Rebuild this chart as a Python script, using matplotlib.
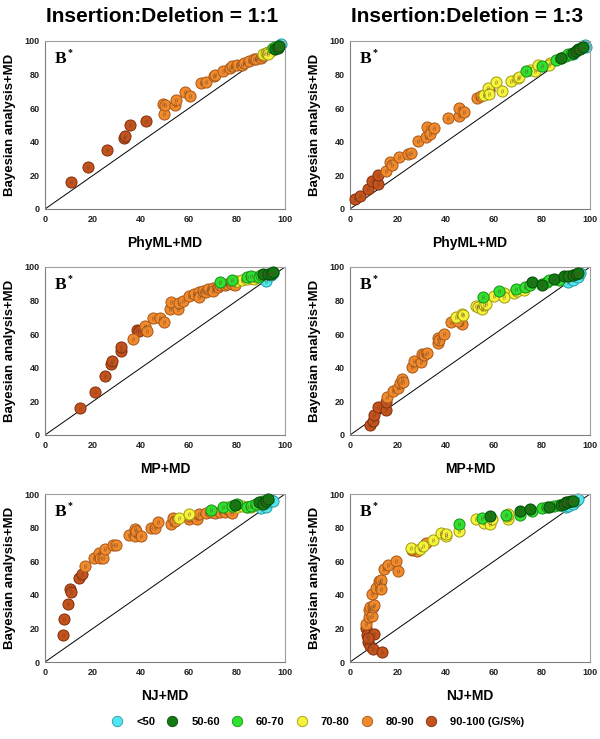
#!/usr/bin/env python3
# -*- coding: utf-8 -*-

"""
Bayesian+MD support vs PhyML/MP/NJ+MD, two indel ratios
"""
import matplotlib
matplotlib.use('Agg')
import matplotlib.pyplot as plt
from matplotlib.lines import Line2D
import numpy as np


CLASS_LABELS = ['<50', '50-60', '60-70', '70-80', '80-90', '90-100 (G/S%)']
CLASS_FACE = ['#4fe6f2', '#127a12', '#2fe02f', '#f6f43a', '#f08a2c', '#c4521c']
CLASS_EDGE = ['#2a98a2', '#0a4a0a', '#1a901a', '#a09a10', '#a8581a', '#7e300e']

COL_TITLES = ['Insertion:Deletion = 1:1', 'Insertion:Deletion = 1:3']
ROW_XLABELS = ['PhyML+MD', 'MP+MD', 'NJ+MD']
YLABEL = 'Bayesian analysis+MD'
TICKS = [0, 20, 40, 60, 80, 100]

# class codes: 0 <50, 1 50-60, 2 60-70, 3 70-80, 4 80-90, 5 90-100

# PhyML, 1:1
phyml11_x = [11, 18, 26, 33, 33.5, 35.5, 42,
             49, 49.5, 50, 54, 54.5, 58.5, 60.5, 65, 67, 70.5, 71, 74, 77, 78, 80, 82, 83, 85, 87, 88, 90, 91,
             91, 92, 93, 94, 95, 93,
             95, 96, 97,
             96, 97, 97.5,
             98, 98.5]
phyml11_y = [16, 25, 35, 42, 43.5, 50, 52.5,
             62.5, 56.5, 62, 62, 65, 69.5, 67.5, 75, 75.5, 79, 80, 82, 84, 85, 85.5, 86, 87, 88, 89, 89, 90, 91,
             92, 93, 93.5, 94, 95, 92,
             96, 96.5, 97,
             95, 96, 97,
             97.5, 98]
phyml11_c = [5]*7 + [4]*22 + [3]*6 + [2]*3 + [1]*3 + [0]*2

# PhyML, 1:3
phyml13_x = [2, 4, 7.5, 9, 11.5, 11.5, 58,
             15, 16.5, 17.5, 20.5, 24, 25.5, 28.5, 31.5, 32, 33.5, 35, 41, 45.5, 45.5, 47.5, 53, 54.5,
             56, 57.5, 58, 61, 63.5, 67, 70, 70.5, 75, 77, 78.5, 83.5, 83,
             73.5, 80, 86, 88, 90, 91, 92,
             88, 93, 94, 95, 96, 97,
             93, 97, 98, 98.5]
phyml13_y = [6, 8, 12, 16.5, 15, 20, 71,
             22.5, 28, 26, 31, 32.5, 33.5, 40.5, 43, 49, 44.5, 48, 54, 55.5, 60, 58, 66, 67,
             68, 72, 68.5, 75.5, 70.5, 76, 78, 78.5, 83, 82, 85.5, 87, 86,
             82, 85, 88.5, 90, 91, 92, 92.5,
             90, 93, 94, 95, 95.5, 96.5,
             92.5, 97, 97.5, 96.5]
phyml13_c = [5]*7 + [4]*17 + [3]*13 + [2]*7 + [1]*6 + [0]*4

# MP, 1:1
mp11_x = [14.5, 21, 25, 27.5, 28, 31.5, 31.5, 38.5, 39,
          36.5, 41.5, 42.5, 45, 48, 49.5, 52, 52.5, 55.5, 56, 57.5, 60, 62, 64, 64, 66, 67, 68, 70, 70,
          72, 73, 75, 76, 78, 79,
          80, 82, 84, 86, 87, 88,
          73, 78, 84, 86, 89, 90,
          91, 93, 94, 95,
          92, 94, 95]
mp11_y = [16, 25.5, 35, 42, 44, 50, 52.5, 62.5, 62,
          57, 65, 62, 69.5, 69.5, 67.5, 75, 79, 75, 78.5, 80, 83, 84, 85, 82, 86, 85, 87, 87.5, 86,
          88, 89, 89.5, 90, 90, 89,
          91.5, 92, 93, 93.5, 93, 94,
          91, 92, 94, 94.5, 94, 95,
          96, 96, 96, 97,
          91.5, 95, 96.5]
mp11_c = [5]*9 + [4]*26 + [3]*6 + [2]*6 + [1]*4 + [0]*3

# MP, 1:3
mp13_x = [8.5, 9.5, 10, 11.5, 15, 15,
          15.5, 18, 20, 21, 21.5, 22, 26, 26.5, 29.5, 30, 31, 32, 36.5, 36.5, 37, 39, 42, 46.5, 45,
          44, 46.5, 47, 52.5, 53.5, 55, 56, 56.5, 60, 64, 64, 68.5, 69.5, 72.5,
          55.5, 62, 69, 73, 75, 80, 82, 83, 87,
          76, 80, 85, 89, 91, 93, 94, 95,
          91, 93, 95, 96]
mp13_y = [6, 8.5, 12, 16.5, 15, 19.5,
          22.5, 26, 28, 31, 33.5, 31.5, 40.5, 44, 43.5, 48, 47.5, 49, 54.5, 57.5, 56.5, 60, 67.5, 66, 68,
          70, 72, 71.5, 77, 76, 75, 77.5, 78, 82.5, 84.5, 82, 84.5, 85.5, 86.5,
          82, 85.5, 87, 88, 89, 90, 91, 92, 92,
          91, 89.5, 93, 94.5, 94.5, 95, 96, 96.5,
          91, 92, 94, 96.5]
mp13_c = [5]*6 + [4]*19 + [3]*14 + [2]*9 + [1]*8 + [0]*4

# NJ, 1:1
nj11_x = [7.5, 8, 9.5, 10.5, 11, 14, 15.5,
          16.5, 20.5, 22.5, 23, 24, 25, 28.5, 29.5, 35, 37.5, 37.5, 38, 40, 44, 46, 47, 52.5, 53.5, 54,
          60, 60, 62.5, 63.5, 64, 67, 69, 71, 73, 75, 77, 78,
          56, 60, 76, 80, 82, 84, 86, 87, 89,
          69, 74, 78, 80, 84, 86, 88, 90, 91,
          79, 89, 91, 92, 93,
          90, 92, 93, 94, 95]
nj11_y = [16, 25.5, 34.5, 43.5, 41.5, 50, 52.5,
          57, 62, 65, 62, 62, 67.5, 69.5, 69.5, 75.5, 79, 75, 78, 75, 80, 79.5, 83.5, 82, 85.5, 84,
          85, 87, 86.5, 85, 88, 88.5, 89, 88.5, 89.5, 89, 90, 88.5,
          86, 88, 92, 92, 93, 92.5, 92, 93.5, 94,
          90.5, 92.5, 93, 94, 92, 93, 94, 95, 96,
          93.5, 95, 94, 96, 97,
          91.5, 92, 95, 96.5, 96]
nj11_c = [5]*7 + [4]*31 + [3]*9 + [2]*9 + [1]*5 + [0]*5

# NJ, 1:3
nj13_x = [6.5, 7, 7.5, 8.5, 9.5, 10, 13.5, 7.5,
          6.5, 8, 8, 8.5, 9, 9, 9.5, 10, 11, 12, 12.5, 13, 13, 14, 16, 19, 20, 26, 28, 31.5, 26,
          25.5, 29, 30.5, 34.5, 38, 40, 40, 45.5, 52.5, 56, 58.5, 59, 66, 65.5, 66,
          45.5, 55, 65, 71, 76, 80, 82, 85, 87,
          58.5, 71, 75, 83, 88, 89, 90, 91, 92, 93,
          90, 91, 93, 94, 95]
nj13_y = [20, 16, 12, 9.5, 8, 16.5, 6, 14,
          22.5, 27, 31, 32.5, 27.5, 40.5, 33, 34, 44, 48, 47, 49, 43.5, 55.5, 58, 60, 54, 66.5, 66, 71, 67.5,
          68, 67, 69, 72.5, 76.5, 75, 76, 78, 85, 83, 82, 85, 85, 87, 88,
          82, 86, 87.5, 87.5, 90, 91.5, 92, 93, 93.5,
          87, 90, 91, 92.5, 93.5, 94, 95, 95, 96, 96,
          92, 93, 94, 96, 97]
nj13_c = [5]*8 + [4]*21 + [3]*15 + [2]*9 + [1]*10 + [0]*5

PANELS = [[(phyml11_x, phyml11_y, phyml11_c), (phyml13_x, phyml13_y, phyml13_c)],
          [(mp11_x, mp11_y, mp11_c), (mp13_x, mp13_y, mp13_c)],
          [(nj11_x, nj11_y, nj11_c), (nj13_x, nj13_y, nj13_c)]]


def draw_panel(ax, px, py, pc, xlabel):
    px = np.asarray(px, dtype=float)
    py = np.asarray(py, dtype=float)
    pc = np.asarray(pc)
    ax.plot([0, 100], [0, 100], color='k', lw=0.7, zorder=1)
    # cyan at the back, dark green on top, like the original
    for z, k in enumerate([0, 5, 4, 3, 2, 1]):
        m = pc == k
        ax.scatter(px[m], py[m], s=64, color=CLASS_FACE[k],
                   edgecolors=CLASS_EDGE[k], linewidths=0.7, zorder=2 + z,
                   clip_on=False)
        # the little "B" stamped in every circle
        ax.scatter(px[m], py[m], s=7, marker='$B$', color='#6a4424',
                   linewidths=0, alpha=0.7, zorder=2 + z, clip_on=False)
    ax.set_xlim(0, 100)
    ax.set_ylim(0, 100)
    ax.set_xticks(TICKS)
    ax.set_yticks(TICKS)
    ax.tick_params(length=0, labelsize=6.5, pad=4, colors='#222222')
    for lab in ax.get_xticklabels() + ax.get_yticklabels():
        lab.set_fontweight('bold')
    for s in ['top', 'right']:
        ax.spines[s].set_color('#a0a0a0')
        ax.spines[s].set_linewidth(0.8)
    for s in ['left', 'bottom']:
        ax.spines[s].set_color('#808080')
        ax.spines[s].set_linewidth(0.8)
    ax.set_xlabel(xlabel, fontsize=10, fontweight='bold', labelpad=9)
    ax.set_ylabel(YLABEL, fontsize=9.5, fontweight='bold', labelpad=6)
    ax.text(0.042, 0.868, 'B', transform=ax.transAxes, family='Liberation Serif',
            fontsize=12.5, fontweight='bold')
    ax.text(0.095, 0.915, '*', transform=ax.transAxes, family='Liberation Serif',
            fontsize=7, fontweight='bold')


def main():
    plt.rcParams['font.family'] = ['Liberation Sans', 'DejaVu Sans']
    fig = plt.figure(figsize=(6.0, 7.39), dpi=100)

    lefts = [45 / 600, 350 / 600]
    width = 240 / 600
    tops = [41, 267, 494]
    height = 168 / 739
    for r in range(3):
        for c in range(2):
            ax = fig.add_axes([lefts[c], 1 - (tops[r] + 168) / 739, width, height])
            px, py, pc = PANELS[r][c]
            draw_panel(ax, px, py, pc, ROW_XLABELS[r])

    for c, title in enumerate(COL_TITLES):
        fig.text(lefts[c] + width / 2 - 0.005, 1 - 16 / 739, title, ha='center',
                 va='center', fontsize=15, fontweight='bold')

    handles = [Line2D([], [], ls='', marker='o', markersize=7.5,
                      markerfacecolor=CLASS_FACE[k], markeredgecolor=CLASS_EDGE[k],
                      markeredgewidth=0.6) for k in range(6)]
    fig.legend(handles, CLASS_LABELS, loc='center', bbox_to_anchor=(0.53, 1 - 722 / 739),
               ncol=6, frameon=False, handlelength=1.0, handletextpad=1.2,
               columnspacing=1.05, prop={'weight': 'bold', 'size': 8})

    fig.savefig('out.png', dpi=100)


if __name__ == '__main__':
    main()
